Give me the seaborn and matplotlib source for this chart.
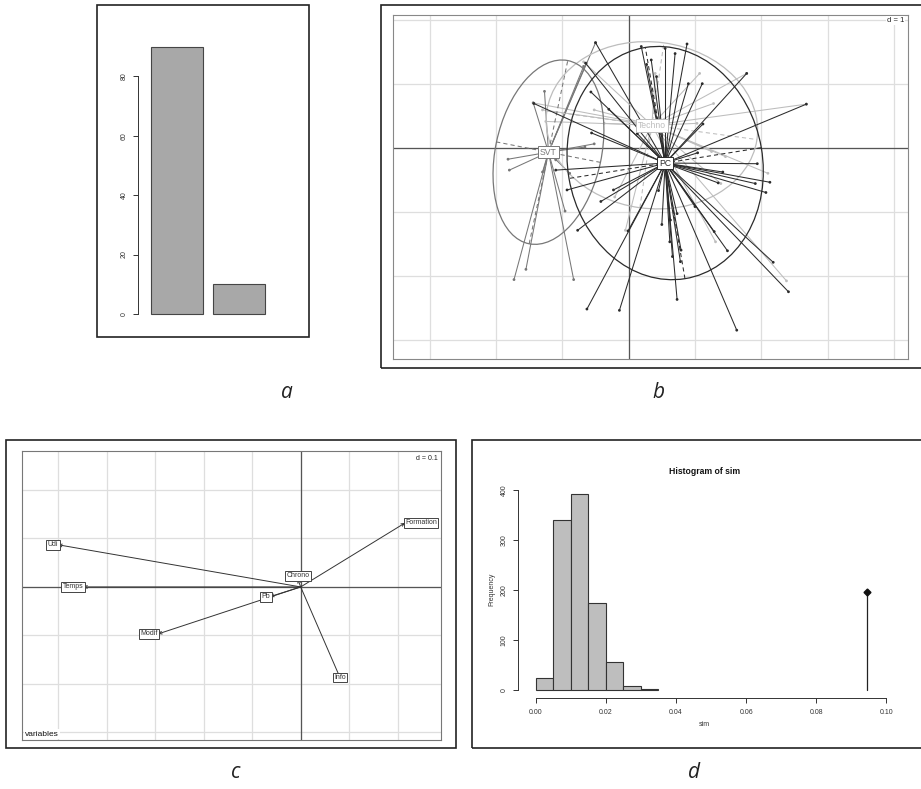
import numpy as np
import matplotlib
matplotlib.use("Agg")
import matplotlib.pyplot as plt
import seaborn as sns
from matplotlib.patches import Rectangle, Ellipse

W, H = 921, 789

# a : barplot
bar_groups = ["1", "2"]
bar_counts = [90, 10]

# b : s.class (three groups, star plot + ellipses)
group_names = ["SVT", "PC", "Techno"]
group_colors = ["#777777", "#2b2b2b", "#bdbdbd"]
centroid_x = [-1.21, 0.55, 0.35]
centroid_y = [-0.07, -0.24, 0.35]
ell_width = [2.92, 3.66, 3.20]
ell_height = [1.60, 2.94, 2.60]
ell_angle = [78.5, 99.4, -8.0]

svt_x = [-1.82, -1.80, -1.44, -1.27, -0.50, -0.64, -0.68, -1.73, -1.55, -0.83,
         -0.96, -1.30, -0.66, -0.52, -1.10, -0.89]
svt_y = [-0.18, -0.35, 0.70, 0.88, 1.64, 1.32, 1.27, -2.06, -1.90, -2.06,
         -0.99, -0.38, 0.01, 0.06, -0.19, -0.40]
pc_x = [-0.57, -0.50, -0.65, -1.43, -0.56, -1.10, -0.93, -0.77, -0.42, -0.23,
        -0.01, -0.63, -0.14, 0.45, 0.62, 0.79, 0.78, 0.73, 1.29, 1.49,
        2.18, 2.41, 1.63, 2.07, 1.35, 1.91, 2.13, 1.42, 1.94, 1.04,
        1.12, 1.78, 2.68, 1.11, 0.90, 0.88, 0.70, 0.42, 0.19, 0.34,
        0.13, 0.63, 0.73, 0.66, 0.50, 1.00, 0.55, 0.27, -0.30]
pc_y = [0.87, 1.64, 1.32, 0.69, 0.23, -0.35, -0.66, -1.29, -0.84, -0.66,
        -1.30, -2.52, -2.54, -0.67, -1.47, -1.60, -1.78, -2.37, -1.31, -1.61,
        -1.79, -2.25, -2.85, -0.70, -0.55, -0.56, -0.54, -0.38, -0.25, -0.08,
        0.37, 1.16, 0.68, 1.00, 1.00, 1.62, 1.47, 1.11, 1.58, 1.37,
        0.22, -1.13, -1.03, -1.70, -1.20, -0.92, 1.55, 1.30, 0.60]
techno_x = [-1.44, -1.25, -1.30, 0.40, 1.07, 1.28, 1.03, 2.10, 1.39, 1.31,
            2.38, -0.05, 2.68, 1.78, -0.37, -0.52, -0.21, 1.46, -0.68, 1.25]
techno_y = [0.70, 0.41, 0.59, 1.16, 1.16, 0.69, 0.38, -0.40, -0.56, -1.47,
            -2.08, -1.29, 0.68, 1.16, 0.38, 0.59, -0.77, -0.14, 1.34, -0.06]

# c : correlation circle of the variables
var_names = ["Udi", "Temps", "Modif", "Pb", "Chrono", "Formation", "Info"]
var_x = [-0.500, -0.448, -0.294, -0.063, -0.006, 0.215, 0.081]
var_y = [0.087, 0.000, -0.097, -0.020, 0.016, 0.132, -0.187]
var_ha = ["right", "right", "right", "right", "center", "left", "center"]
var_va = ["center", "center", "center", "center", "bottom", "center", "center"]

# d : randtest histogram
sim_edges = [0.000, 0.005, 0.010, 0.015, 0.020, 0.025, 0.030, 0.035]
sim_counts = [24, 340, 393, 175, 57, 8, 2]
sim_obs = 0.0946

sns.set_theme(style="white")
plt.rcParams["font.family"] = ["Liberation Sans", "DejaVu Sans"]

fig = plt.figure(figsize=(W / 100, H / 100), dpi=100)


def px_axes(left, top, right, bottom):
    return fig.add_axes([left / W, 1 - bottom / H, (right - left) / W, (bottom - top) / H])


def frame(left, top, right, bottom, lw=1.2):
    fig.add_artist(Rectangle((left / W, 1 - bottom / H), (right - left) / W,
                             (bottom - top) / H, transform=fig.transFigure,
                             fill=False, ec="#222222", lw=lw))


def ftext(x, y, s, **kw):
    fig.text(x / W, 1 - y / H, s, **kw)


def r_axis(ax):
    for side in ["top", "right"]:
        ax.spines[side].set_visible(False)
    for side in ["left", "bottom"]:
        ax.spines[side].set_color("#333333")
        ax.spines[side].set_linewidth(0.7)
    ax.tick_params(colors="#333333", labelsize=5, length=3.5, width=0.7,
                   direction="out", left=True, bottom=True)
    ax.patch.set_visible(False)


# ---- panel a
frame(97, 5, 309, 337)
ax = px_axes(138, 15, 275, 325)
sns.barplot(x=bar_groups, y=bar_counts, color="#a8a8a8", edgecolor="#454545",
            linewidth=0.8, width=0.839, saturation=1, ax=ax)
ax.set_xlim(-0.629, 1.58)
ax.set_ylim(-3.7, 100.6)
r_axis(ax)
ax.spines["bottom"].set_visible(False)
ax.set_xticks([])
ax.set_xlabel("")
ax.spines["left"].set_bounds(0, 80)
ax.set_yticks([0, 20, 40, 60, 80])
ax.set_yticklabels(["0", "20", "40", "60", "80"], rotation=90, va="center")
ax.tick_params(axis="y", pad=4)

# ---- panel b
frame(381, 5, 930, 368)
ax = px_axes(393, 14.5, 908, 359)
ax.set_xlim(-3.555, 4.213)
ax.set_ylim(-3.30, 2.08)
for v in range(-3, 5):
    ax.axvline(v, color="#dedede", lw=0.9, zorder=0)
for h in range(-3, 3):
    ax.axhline(h, color="#dedede", lw=0.9, zorder=0)
ax.axvline(0, color="#555555", lw=0.9, zorder=1)
ax.axhline(0, color="#555555", lw=0.9, zorder=1)

groups_x = [svt_x, pc_x, techno_x]
groups_y = [svt_y, pc_y, techno_y]
for k in [2, 0, 1]:
    col = group_colors[k]
    cx, cy = centroid_x[k], centroid_y[k]
    for px, py in zip(groups_x[k], groups_y[k]):
        ax.plot([cx, px], [cy, py], color=col, lw=0.75, zorder=2 + k % 2)
    sns.scatterplot(x=groups_x[k], y=groups_y[k], color=col, s=4,
                    edgecolor="none", ax=ax, zorder=3)
    ax.add_patch(Ellipse((cx, cy), ell_width[k], ell_height[k], angle=ell_angle[k],
                         fill=False, ec=col, lw=0.9, zorder=3))
    t = np.deg2rad(ell_angle[k])
    for half, ang in [(ell_width[k] / 2, t), (ell_height[k] / 2, t + np.pi / 2)]:
        dx, dy = half * np.cos(ang), half * np.sin(ang)
        ax.plot([cx - dx, cx + dx], [cy - dy, cy + dy], color=col, lw=0.75,
                ls=(0, (4, 3)), zorder=3)
for k in range(3):
    ax.text(centroid_x[k], centroid_y[k], group_names[k], fontsize=6.2,
            color=group_colors[k], ha="center", va="center", zorder=6,
            bbox=dict(boxstyle="square,pad=0.2", fc="white", ec=group_colors[k], lw=0.7))
ax.text(0.992, 0.982, "d = 1", transform=ax.transAxes, ha="right", va="center",
        fontsize=5.5, color="#222222", zorder=7,
        bbox=dict(boxstyle="square,pad=0.1", fc="white", ec="none"))
ax.set_xticks([])
ax.set_yticks([])
for s in ax.spines.values():
    s.set_color("#888888")
    s.set_linewidth(0.8)

# ---- panel c
frame(6, 440, 456, 748)
ax = px_axes(22.3, 451.3, 440.7, 740)
ax.set_xlim(-0.574, 0.2887)
ax.set_ylim(-0.316, 0.280)
for v in np.arange(-5, 3) / 10:
    ax.axvline(v, color="#dedede", lw=0.9, zorder=0)
for h in np.arange(-3, 3) / 10:
    ax.axhline(h, color="#dedede", lw=0.9, zorder=0)
ax.axvline(0, color="#555555", lw=0.9, zorder=1)
ax.axhline(0, color="#555555", lw=0.9, zorder=1)
for name, x, y, ha, va in zip(var_names, var_x, var_y, var_ha, var_va):
    ax.annotate("", xy=(x, y), xytext=(0, 0),
                arrowprops=dict(arrowstyle="->", color="#333333", lw=0.7,
                                mutation_scale=5, shrinkA=0, shrinkB=0), zorder=2)
    ax.text(x, y, name, fontsize=5, color="#333333", ha=ha, va=va, zorder=4,
            bbox=dict(boxstyle="square,pad=0.2", fc="white", ec="#444444", lw=0.7))
ax.text(0.992, 0.975, "d = 0.1", transform=ax.transAxes, ha="right", va="center",
        fontsize=5, color="#222222",
        bbox=dict(boxstyle="square,pad=0.1", fc="white", ec="none"))
ax.text(0.006, 0.008, "variables", transform=ax.transAxes, ha="left", va="bottom",
        fontsize=6, color="#111111",
        bbox=dict(boxstyle="square,pad=0.15", fc="white", ec="none"))
ax.set_xticks([])
ax.set_yticks([])
for s in ax.spines.values():
    s.set_color("#777777")
    s.set_linewidth(0.8)

# ---- panel d
frame(471.7, 440, 930, 747.7)
ax = px_axes(518.3, 480, 900, 698.3)
sim_mids = [(a + b) / 2 for a, b in zip(sim_edges[:-1], sim_edges[1:])]
sns.histplot(x=sim_mids, weights=sim_counts, bins=sim_edges, color="#bebebe",
             edgecolor="#333333", linewidth=0.8, alpha=1, ax=ax)
obs_height = max(sim_counts) / 2
ax.plot([sim_obs, sim_obs], [0, obs_height], color="#222222", lw=0.9)
ax.plot([sim_obs], [obs_height], marker="D", ms=3.5, color="#111111")
ax.set_xlim(-0.00496, 0.1039)
ax.set_ylim(-16, 420.6)
r_axis(ax)
ax.spines["left"].set_bounds(0, 400)
ax.spines["bottom"].set_bounds(0, 0.1)
ax.set_xticks([0, 0.02, 0.04, 0.06, 0.08, 0.10])
ax.set_xticklabels(["0.00", "0.02", "0.04", "0.06", "0.08", "0.10"])
ax.set_yticks([0, 100, 200, 300, 400])
ax.set_yticklabels(["0", "100", "200", "300", "400"], rotation=90, va="center")
ax.tick_params(axis="x", pad=4)
ax.tick_params(axis="y", pad=4)
ax.set_xlabel("")
ax.set_ylabel("")
ftext(704.3, 471.7, "Histogram of sim", fontsize=6.2, fontweight="bold",
      ha="center", va="center", color="#111111")
ftext(704.3, 725, "sim", fontsize=5, ha="center", va="center", color="#333333")
ftext(491.7, 589, "Frequency", fontsize=5, ha="center", va="center",
      rotation=90, color="#333333")

# ---- panel letters
for lx, ly, s in [(287, 393, "a"), (658, 393, "b"), (236, 773, "c"), (694, 773, "d")]:
    ftext(lx, ly, s, fontsize=15, style="italic", family=["Open Sans", "DejaVu Sans"],
          ha="center", va="center", color="#222222")

fig.savefig("out.png", dpi=100)
